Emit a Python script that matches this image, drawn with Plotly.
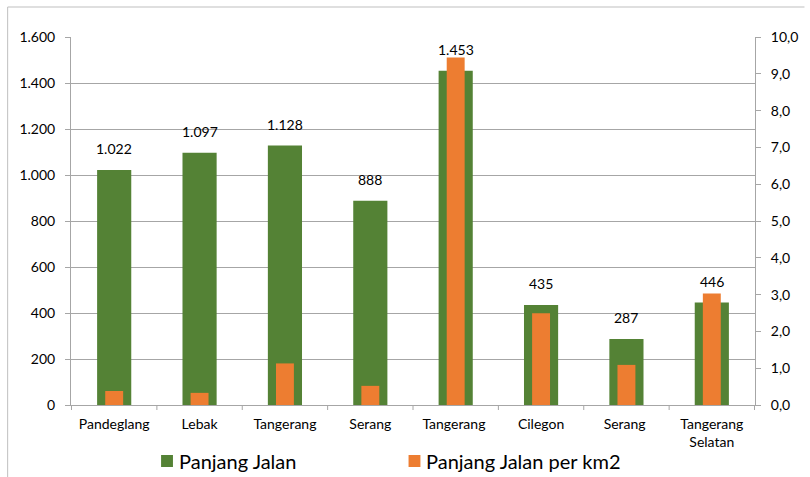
import plotly.graph_objects as go

categories = ["Pandeglang", "Lebak", "Tangerang", "Serang", "Tangerang ", "Cilegon", "Serang ", "Tangerang<br>Selatan"]
panjang_jalan = [1022, 1097, 1128, 888, 1453, 435, 287, 446]
panjang_per_km2 = [0.38, 0.33, 1.13, 0.52, 9.44, 2.49, 1.09, 3.03]
left_ticks = [0, 200, 400, 600, 800, 1000, 1200, 1400, 1600]
right_ticks = [0, 1, 2, 3, 4, 5, 6, 7, 8, 9, 10]
series_names = ["Panjang Jalan", "Panjang Jalan per km2"]

GREEN = "#548235"
ORANGE = "#ED7D31"
GRID = "#a6a6a6"
FONT = "Lato, Liberation Sans, sans-serif"

W, H = 810, 477
L, R, T, B = 71, 48, 37, 72
PW, PH = W - L - R, H - T - B

fig = go.Figure()
fig.add_trace(go.Bar(
    x=categories, y=panjang_jalan, name=series_names[0],
    marker=dict(color=GREEN, line=dict(width=0)), width=0.4, yaxis="y",
))
fig.add_trace(go.Bar(
    x=categories, y=panjang_per_km2, name=series_names[1],
    marker=dict(color=ORANGE, line=dict(width=0)), width=0.21, yaxis="y2",
))

for c, v in zip(categories, panjang_jalan):
    txt = f"{v:,}".replace(",", ".")
    fig.add_annotation(x=c, y=v, yref="y", text=txt, showarrow=False,
                       yshift=21, font=dict(size=14, color="#000000", family=FONT))

fig.update_layout(
    width=W, height=H,
    margin=dict(l=L, r=R, t=T, b=B),
    paper_bgcolor="white", plot_bgcolor="white",
    barmode="overlay",
    separators=",.",
    showlegend=False,
    font=dict(family=FONT, color="#000000"),
    xaxis=dict(
        type="category", showgrid=False, showline=True, linecolor=GRID, linewidth=1,
        ticks="", tickfont=dict(size=14, color="#000000"), ticklabelstandoff=6,
        fixedrange=True,
    ),
    yaxis=dict(
        range=[0, 1600], tickvals=left_ticks, tickformat=",.0f",
        showgrid=True, gridcolor=GRID, gridwidth=1,
        showline=True, linecolor=GRID, linewidth=1,
        ticks="outside", ticklen=5, tickcolor=GRID, ticklabelstandoff=7,
        tickfont=dict(size=14, color="#000000"),
        zeroline=False,
    ),
    yaxis2=dict(
        range=[0, 10], tickvals=right_ticks, tickformat=".1f",
        overlaying="y", side="right", showgrid=False,
        showline=True, linecolor=GRID, linewidth=1,
        ticks="outside", ticklen=5, tickcolor=GRID, ticklabelstandoff=7,
        tickfont=dict(size=14, color="#000000"),
        zeroline=False,
    ),
)

def px(xp):
    return (xp - L) / PW

def py(yp):
    return (H - B - yp) / PH

# category boundary tick marks on x axis
n = len(categories)
for i in range(n + 1):
    fig.add_shape(type="line", xref="x", yref="paper", x0=i - 0.5, x1=i - 0.5,
                  y0=0, y1=py(410), line=dict(color=GRID, width=1))

# outer chart border (top and left visible)
fig.add_shape(type="line", xref="paper", yref="paper", x0=px(7), x1=px(812),
              y0=py(7), y1=py(7), line=dict(color="#bfbfbf", width=1))
fig.add_shape(type="line", xref="paper", yref="paper", x0=px(7), x1=px(7),
              y0=py(7), y1=py(480), line=dict(color="#bfbfbf", width=1))

# legend (manual, to match spacing)
legend_items = [(series_names[0], GREEN, 162), (series_names[1], ORANGE, 412)]
for name, col, x0 in legend_items:
    fig.add_shape(type="rect", xref="paper", yref="paper",
                  x0=px(x0), x1=px(x0 + 12), y0=py(455), y1=py(467),
                  fillcolor=col, line=dict(width=0))
    fig.add_annotation(xref="paper", yref="paper", x=px(x0 + 16), y=py(461),
                       xanchor="left", yanchor="middle", text=name, showarrow=False,
                       font=dict(size=20, color="#000000", family=FONT))

fig.write_html("out.html")
